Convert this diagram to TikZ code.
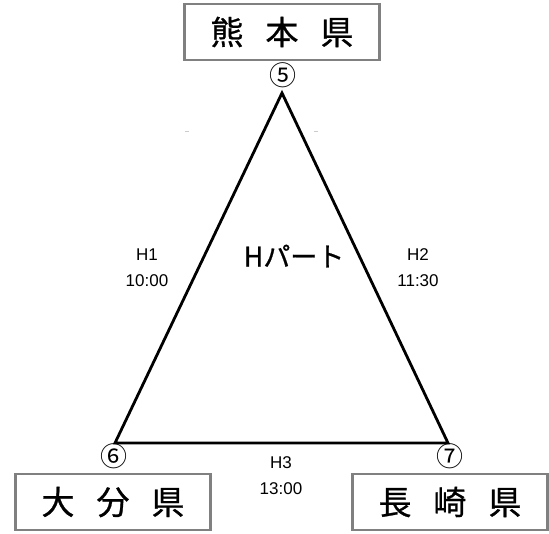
\documentclass[tikz,border=0pt]{standalone}
\usepackage{fontspec}
\setmainfont{Noto Sans CJK JP}
\newfontfamily\cjkheavy[FakeBold=0.8]{Noto Sans CJK JP}
\newfontfamily\latinlbl{Liberation Sans}
\begin{document}
\begin{tikzpicture}[x=1pt,y=-1pt,
  pref/.style={draw=gray,line width=2.8pt,minimum width=195pt,minimum height=56pt,inner sep=0pt,font=\cjkheavy\fontsize{33}{36}\selectfont},
  circnum/.style={font=\fontsize{27}{28}\selectfont,inner sep=0pt},
  lbl/.style={font=\latinlbl\fontsize{17}{26}\selectfont,align=center,inner sep=0pt},
  edge/.style={line width=2.8pt,line join=miter}]
\useasboundingbox (0,0) rectangle (549,533);
\fill[white] (0,0) rectangle (549,533);
\node[pref] (kuma) at (282,32) {熊\hspace{22pt}本\hspace{22pt}県};
\node[pref] (oita) at (113,502) {大\hspace{22pt}分\hspace{22pt}県};
\node[pref] (naga) at (450,502) {長\hspace{22pt}崎\hspace{22pt}県};
\coordinate (v5) at (282,93);
\coordinate (v6) at (115,443);
\coordinate (v7) at (448,443);
\draw[edge] (v5) -- (v6) -- (v7) -- cycle;
\node[circnum] (n5) at (283,75) {⑤};
\node[circnum] (n6) at (114,456) {⑥};
\node[circnum] (n7) at (450,456) {⑦};
\node[lbl] (h1) at (147,268) {H1\\10:00};
\node[lbl] (h2) at (418,268) {H2\\11:30};
\node[lbl] (h3) at (281,476) {H3\\13:00};
\node[font=\cjkheavy\fontsize{27}{28}\selectfont,inner sep=0pt] (hp) at (294,256) {Hパート};
\draw[gray!40,line width=0.6pt] (185,131) -- (189,131);
\draw[gray!40,line width=0.6pt] (314,131) -- (318,131);
\end{tikzpicture}
\end{document}
